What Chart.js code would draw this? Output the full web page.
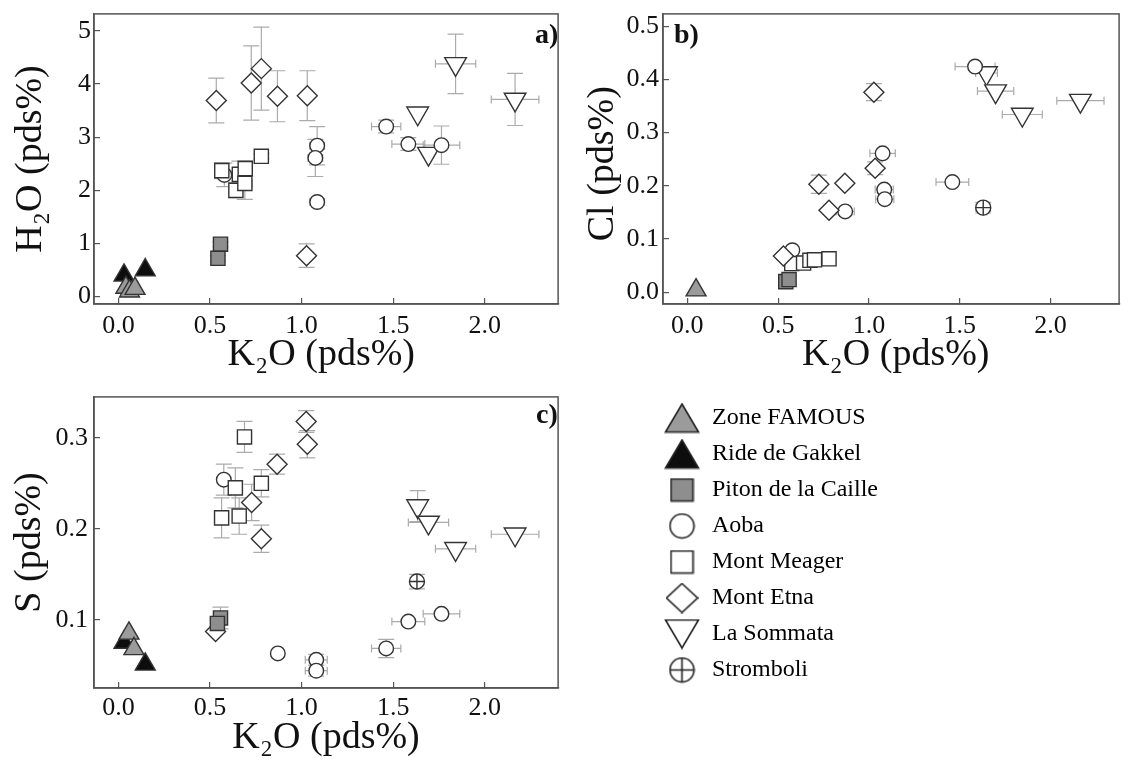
<!DOCTYPE html>
<html>
<head>
<meta charset="utf-8">
<title>K2O - H2O, Cl, S</title>
<script src="https://cdn.jsdelivr.net/npm/chart.js@4.4.1/dist/chart.umd.min.js"></script>
<style>
  html, body { margin: 0; padding: 0; background: #fff; }
  body { position: relative; width: 1133px; height: 765px; overflow: hidden; }
  canvas { position: absolute; }
  .tag { position: absolute; font: bold 28px "Liberation Serif", serif; line-height: 28px; color: #111; }
</style>
</head>
<body>
<canvas id="chartA" width="572" height="380" style="left:0;top:0"></canvas>
<canvas id="chartB" width="573" height="380" style="left:560px;top:0"></canvas>
<canvas id="chartC" width="572" height="382" style="left:0;top:383px"></canvas>
<canvas id="legend" width="480" height="360" style="left:652px;top:394px"></canvas>
<div class="tag" style="left:535px;top:20px">a)</div>
<div class="tag" style="left:674px;top:20px">b)</div>
<div class="tag" style="left:536px;top:400px">c)</div>
<script>
var seriesNames = ['Zone FAMOUS', 'Ride de Gakkel', 'Piton de la Caille', 'Aoba', 'Mont Meager', 'Mont Etna', 'La Sommata', 'Stromboli'];
var kTicks = [0, 0.5, 1, 1.5, 2];
var h2oTicks = [0, 1, 2, 3, 4, 5];
var clTicks = [0, 0.1, 0.2, 0.3, 0.4, 0.5];
var sTicks = [0.1, 0.2, 0.3];

// rows are [K2O, value, K2O error, value error]
var famousH2O = [[0.04, 0.17], [0.06, 0.10], [0.09, 0.15]];
var gakkelH2O = [[0.03, 0.40], [0.146, 0.50]];
var pitonH2O = [[0.557, 0.985, 0.03, 0.05], [0.543, 0.72, 0.03, 0.05]];
var aobaH2O = [[0.578, 2.29, 0, 0.22], [1.085, 2.84, 0.04, 0.36], [1.075, 2.61, 0.04, 0.35], [1.085, 1.78, 0.04, 0],
  [1.462, 3.20, 0.08, 0.12], [1.583, 2.87, 0.09, 0.12], [1.764, 2.85, 0.10, 0.36]];
var meagerH2O = [[0.564, 2.37, 0.03, 0.15], [0.641, 2.00, 0.03, 0.15], [0.66, 2.30, 0.04, 0.25], [0.69, 2.13, 0.04, 0.30],
  [0.692, 2.41, 0.03, 0.15], [0.78, 2.64, 0.03, 0.05]];
var etnaH2O = [[0.534, 3.69, 0, 0.42], [0.725, 4.02, 0, 0.70], [0.78, 4.29, 0, 0.78], [0.868, 3.77, 0, 0.48],
  [1.031, 3.78, 0, 0.47], [1.027, 0.77, 0, 0.22]];
var sommataH2O = [[1.634, 3.45], [1.693, 2.69], [1.841, 4.38, 0.11, 0.56], [2.166, 3.71, 0.13, 0.49]];
var stromboliH2O = [];

var famousCl = [[0.048, 0.004]];
var gakkelCl = [];
var pitonCl = [[0.542, 0.020], [0.56, 0.024]];
var aobaCl = [[0.578, 0.079], [0.869, 0.152, 0.05, 0], [1.075, 0.261, 0.07, 0], [1.084, 0.193, 0.05, 0],
  [1.087, 0.175, 0.05, 0], [1.459, 0.207, 0.09, 0], [1.584, 0.424, 0.11, 0]];
var meagerCl = [[0.575, 0.054], [0.64, 0.055], [0.675, 0.060], [0.70, 0.061], [0.78, 0.063, 0.02, 0]];
var etnaCl = [[0.529, 0.068], [0.724, 0.203, 0.04, 0.017], [0.867, 0.205], [0.78, 0.154, 0.03, 0],
  [1.034, 0.233, 0, 0.012], [1.027, 0.376, 0, 0.016]];
var sommataCl = [[1.647, 0.412, 0.06, 0], [1.697, 0.378, 0.10, 0], [1.844, 0.334, 0.11, 0], [2.164, 0.360, 0.13, 0]];
var stromboliCl = [[1.629, 0.159, 0.04, 0.01]];

var famousS = [[0.057, 0.085], [0.084, 0.068]];
var gakkelS = [[0.03, 0.075], [0.146, 0.051]];
var pitonS = [[0.557, 0.102, 0, 0.012], [0.54, 0.096]];
var aobaS = [[0.575, 0.254, 0, 0.017], [0.87, 0.063, 0.03, 0], [1.08, 0.056, 0.06, 0.006], [1.08, 0.044, 0.06, 0.006],
  [1.462, 0.0685, 0.08, 0.01], [1.583, 0.098, 0.09, 0], [1.764, 0.1065, 0.10, 0]];
var meagerS = [[0.688, 0.301, 0, 0.017], [0.638, 0.245, 0, 0.022], [0.78, 0.250, 0, 0.015], [0.563, 0.212, 0, 0.022],
  [0.659, 0.214, 0, 0.02]];
var etnaS = [[1.025, 0.318, 0, 0.012], [1.031, 0.293, 0, 0.015], [0.866, 0.271, 0, 0.011], [0.727, 0.229, 0, 0.02],
  [0.78, 0.189, 0, 0.015], [0.53, 0.087]];
var sommataS = [[1.634, 0.225, 0, 0.017], [1.693, 0.207, 0.11, 0], [1.841, 0.178, 0.11, 0], [2.166, 0.194, 0.13, 0]];
var stromboliS = [[1.63, 0.142, 0.03, 0.008]];

var ink = '#111';
var axisGray = '#555';
var tickFont = { family: 'Liberation Serif', size: 26 };
var titleFont = { family: 'Liberation Serif', size: 38 };
var legendFont = { family: 'Liberation Serif', size: 24 };

// lower order is drawn on top
var markers = [
  { style: 'triangle', radius: 11.5, fill: '#9b9b9b', order: 3 },
  { style: 'triangle', radius: 11.5, fill: '#0d0d0d', order: 4 },
  { style: 'rect', radius: 10, fill: '#8e8e8e', order: 2 },
  { style: 'circle', radius: 7.3, fill: '#ffffff', order: 7 },
  { style: 'rect', radius: 10, fill: '#ffffff', order: 6 },
  { style: 'rectRot', radius: 10, fill: '#ffffff', order: 5 },
  { style: 'triangle', radius: 12.5, fill: '#ffffff', order: 8, rotation: 180 },
  { style: 'circle', radius: 7.5, fill: '#ffffff', order: 1 }
];

function toPoints(rows) {
  return rows.map(function (r) {
    return { x: r[0], y: r[1], xErr: r[2] || 0, yErr: r[3] || 0 };
  });
}

function buildDatasets(groups) {
  var sets = [];
  groups.forEach(function (rows, i) {
    if (!rows.length) return;
    var m = markers[i];
    sets.push({
      label: seriesNames[i], data: toPoints(rows), showLine: false, order: m.order, errorBars: true,
      pointStyle: m.style, pointRadius: m.radius, pointRotation: m.rotation || 0,
      pointBackgroundColor: m.fill, pointBorderColor: '#333', pointBorderWidth: 1.4
    });
    if (i === 7) {
      sets.push({
        label: seriesNames[i] + ' +', data: toPoints(rows), showLine: false, order: 0,
        pointStyle: 'cross', pointRadius: m.radius, pointBorderColor: '#333', pointBorderWidth: 1.4
      });
    }
  });
  return sets;
}

var errorBars = {
  id: 'errorBars',
  beforeDatasetsDraw: function (chart) {
    var ctx = chart.ctx, xs = chart.scales.x, ys = chart.scales.y, a = chart.chartArea;
    ctx.save();
    ctx.beginPath();
    ctx.rect(a.left, a.top, a.right - a.left, a.bottom - a.top);
    ctx.clip();
    ctx.strokeStyle = '#ababab';
    ctx.lineWidth = 1.2;
    chart.data.datasets.forEach(function (ds) {
      if (!ds.errorBars) return;
      ds.data.forEach(function (p) {
        var px = xs.getPixelForValue(p.x), py = ys.getPixelForValue(p.y);
        ctx.beginPath();
        if (p.xErr) {
          var l = xs.getPixelForValue(p.x - p.xErr), r = xs.getPixelForValue(p.x + p.xErr);
          ctx.moveTo(l, py); ctx.lineTo(r, py);
          ctx.moveTo(l, py - 4); ctx.lineTo(l, py + 4);
          ctx.moveTo(r, py - 4); ctx.lineTo(r, py + 4);
        }
        if (p.yErr) {
          var t = ys.getPixelForValue(p.y + p.yErr), b = ys.getPixelForValue(p.y - p.yErr);
          ctx.moveTo(px, t); ctx.lineTo(px, b);
          ctx.moveTo(px - 8, t); ctx.lineTo(px + 8, t);
          ctx.moveTo(px - 8, b); ctx.lineTo(px + 8, b);
        }
        ctx.stroke();
      });
    });
    ctx.restore();
  }
};

var frame = {
  id: 'frame',
  afterDraw: function (chart) {
    var a = chart.chartArea, ctx = chart.ctx;
    ctx.save();
    ctx.strokeStyle = axisGray;
    ctx.lineWidth = 1.5;
    ctx.strokeRect(a.left, a.top, a.right - a.left, a.bottom - a.top);
    ctx.restore();
  }
};

function makeAxes(p) {
  return {
    x: {
      type: 'linear', min: -0.134, max: p.xMax,
      afterBuildTicks: function (s) { s.ticks = kTicks.map(function (v) { return { value: v }; }); },
      afterFit: function (s) { s.height = p.xHeight; s.paddingLeft = 0; s.paddingRight = 0; },
      grid: { drawOnChartArea: false, tickLength: -6, color: axisGray, lineWidth: 1.2 },
      border: { color: axisGray, width: 1.5 },
      ticks: {
        color: ink, font: tickFont, padding: p.xPad, maxRotation: 0, autoSkip: false,
        callback: function (v) { return v.toFixed(1); }
      },
      title: { display: true, text: p.xTitle, color: ink, font: titleFont, padding: { top: 0, bottom: p.xTitlePad } }
    },
    y: {
      type: 'linear', min: p.yMin, max: p.yMax,
      afterBuildTicks: function (s) { s.ticks = p.yTicks.map(function (v) { return { value: v }; }); },
      afterFit: function (s) { s.width = p.yWidth; s.paddingTop = 0; s.paddingBottom = 0; },
      grid: { drawOnChartArea: false, tickLength: -6, color: axisGray, lineWidth: 1.2 },
      border: { color: axisGray, width: 1.5 },
      ticks: {
        color: ink, font: tickFont, padding: p.yPad, autoSkip: false,
        callback: function (v) { return v.toFixed(p.yDigits); }
      },
      title: { display: true, text: p.yTitle, color: ink, font: titleFont, padding: { top: p.yTitlePad, bottom: 0 } }
    }
  };
}

function makePanel(id, groups, p) {
  return new Chart(document.getElementById(id), {
    type: 'scatter',
    data: { datasets: buildDatasets(groups) },
    options: {
      responsive: false, animation: false, events: [],
      layout: { padding: p.padding },
      scales: makeAxes(p),
      plugins: { legend: { display: false }, tooltip: { enabled: false } }
    },
    plugins: [errorBars, frame]
  });
}

makePanel('chartA',
  [famousH2O, gakkelH2O, pitonH2O, aobaH2O, meagerH2O, etnaH2O, sommataH2O, stromboliH2O],
  { padding: { top: 10, right: 5, left: 0, bottom: 0 }, xMax: 2.401, yMin: -0.14, yMax: 5.32, yTicks: h2oTicks, yDigits: 0,
    xHeight: 76, yWidth: 94, xPad: 13, yPad: 9, xTitlePad: 2, yTitlePad: 8,
    xTitle: 'K\u2082O (pds%) ', yTitle: 'H\u2082O (pds%)' });

makePanel('chartB',
  [famousCl, gakkelCl, pitonCl, aobaCl, meagerCl, etnaCl, sommataCl, stromboliCl],
  { padding: { top: 11, right: 2, left: 0, bottom: 0 }, xMax: 2.377, yMin: -0.022, yMax: 0.523, yTicks: clTicks, yDigits: 1,
    xHeight: 76, yWidth: 103, xPad: 13, yPad: 10, xTitlePad: 2, yTitlePad: 20,
    xTitle: ' K\u2082O (pds%)', yTitle: 'Cl (pds%) ' });

makePanel('chartC',
  [famousS, gakkelS, pitonS, aobaS, meagerS, etnaS, sommataS, stromboliS],
  { padding: { top: 10, right: 5, left: 0, bottom: 0 }, xMax: 2.401, yMin: 0.025, yMax: 0.345, yTicks: sTicks, yDigits: 1,
    xHeight: 77, yWidth: 94, xPad: 11, yPad: 12, xTitlePad: 4, yTitlePad: 7,
    xTitle: 'K\u2082O (pds%)', yTitle: 'S (pds%)' });

// legend glyphs are larger than the plot markers, so draw them as small images
function icon(kind, fill) {
  var c = document.createElement('canvas');
  var sizes = { up: [36, 31], down: [36, 31], square: [25, 25], circle: [27, 27], diamond: [33, 31], plus: [27, 27] };
  c.width = sizes[kind][0];
  c.height = sizes[kind][1];
  var ctx = c.getContext('2d'), w = c.width, h = c.height;
  ctx.fillStyle = fill;
  ctx.strokeStyle = '#222';
  ctx.lineWidth = 1.6;
  ctx.beginPath();
  if (kind === 'up') {
    ctx.moveTo(w / 2, 1.5); ctx.lineTo(w - 1.5, h - 1.5); ctx.lineTo(1.5, h - 1.5); ctx.closePath();
  } else if (kind === 'down') {
    ctx.moveTo(1.5, 1.5); ctx.lineTo(w - 1.5, 1.5); ctx.lineTo(w / 2, h - 1.5); ctx.closePath();
  } else if (kind === 'square') {
    ctx.rect(1.5, 1.5, w - 3, h - 3);
  } else if (kind === 'diamond') {
    ctx.moveTo(w / 2, 1); ctx.lineTo(w - 1, h / 2); ctx.lineTo(w / 2, h - 1); ctx.lineTo(1, h / 2); ctx.closePath();
  } else {
    ctx.arc(w / 2, h / 2, w / 2 - 1.5, 0, Math.PI * 2);
  }
  ctx.fill();
  ctx.stroke();
  if (kind === 'plus') {
    ctx.beginPath();
    ctx.moveTo(1.5, h / 2); ctx.lineTo(w - 1.5, h / 2);
    ctx.moveTo(w / 2, 1.5); ctx.lineTo(w / 2, h - 1.5);
    ctx.stroke();
  }
  return c;
}

var legendIcons = [
  icon('up', '#9b9b9b'), icon('up', '#0d0d0d'), icon('square', '#8e8e8e'), icon('circle', '#fff'),
  icon('square', '#fff'), icon('diamond', '#fff'), icon('down', '#fff'), icon('plus', '#fff')
];

new Chart(document.getElementById('legend'), {
  type: 'scatter',
  data: { datasets: [] },
  options: {
    responsive: false, animation: false, events: [],
    layout: { padding: 0 },
    scales: { x: { display: false }, y: { display: false } },
    plugins: {
      tooltip: { enabled: false },
      legend: {
        position: 'left', align: 'start',
        labels: {
          usePointStyle: true, pointStyleWidth: 36, padding: 12, color: ink, font: legendFont,
          generateLabels: function () {
            return seriesNames.map(function (name, i) {
              return { text: name, pointStyle: legendIcons[i], fillStyle: markers[i].fill, strokeStyle: '#333',
                lineWidth: 0, hidden: false, datasetIndex: i };
            });
          }
        }
      }
    }
  }
});
</script>
</body>
</html>
